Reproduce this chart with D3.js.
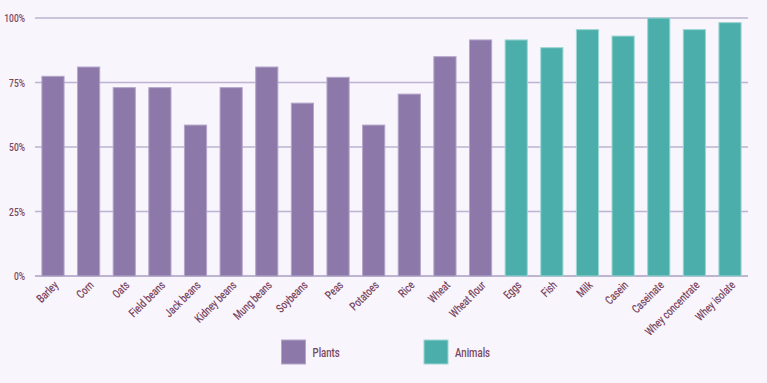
<!DOCTYPE html>
<html><head><meta charset="utf-8">
<script src="https://cdn.jsdelivr.net/npm/d3@7"></script>
<style>
html,body{margin:0;padding:0;background:#f8f5fc;}
svg{display:block;}
text{font-family:Roboto,"DejaVu Sans",sans-serif;font-weight:500;fill:#7a4761;}
</style></head>
<body>
<svg id="c" width="767" height="383"></svg>
<script>
const categories = ["Barley","Corn","Oats","Field beans","Jack beans","Kidney beans","Mung beans","Soybeans","Peas","Potatoes","Rice","Wheat","Wheat flour","Eggs","Fish","Milk","Casein","Caseinate","Whey concentrate","Whey isolate"];
const values = [77.4,81,73,73,58.5,73,81,67,77,58.5,70.5,85,91.5,91.5,88.5,95.5,93,100,95.5,98.2];
const groups = ["Plants","Plants","Plants","Plants","Plants","Plants","Plants","Plants","Plants","Plants","Plants","Plants","Plants","Animals","Animals","Animals","Animals","Animals","Animals","Animals"];
const seriesNames = ["Plants","Animals"];
const yTicks = [0,25,50,75,100];

const colors = {Plants:"#8c78a9", Animals:"#4caeab"};
const strokes = {Plants:"#b3a6c9", Animals:"#9bd6d2"};
const sx = 0.74;

const svg = d3.select("#c");
const mLeft = 35, mRight = 748, mTop = 18, mBottom = 276;
const x = d3.scaleBand().domain(categories).range([mLeft,mRight]).paddingInner(0.35).paddingOuter(0.18);
const y = d3.scaleLinear().domain([0,100]).range([mBottom,mTop]);

// gridlines
svg.append("g").selectAll("line").data(yTicks).join("line")
  .attr("x1",mLeft).attr("x2",mRight)
  .attr("y1",d=>y(d)).attr("y2",d=>y(d))
  .attr("stroke","#bcb4d0").attr("stroke-width",d=>d===0?2:1.3);

// y labels
svg.append("g").selectAll("text").data(yTicks).join("text")
  .attr("transform",d=>`translate(25,${y(d)+4}) scale(${sx},1)`)
  .attr("text-anchor","end").attr("font-size",11.5)
  .text(d=>d+"%");

// bars
svg.append("g").selectAll("rect").data(categories).join("rect")
  .attr("x",d=>x(d)+0.5).attr("width",x.bandwidth()-1)
  .attr("y",(d,i)=>y(values[i])).attr("height",(d,i)=>y(0)-y(values[i]))
  .attr("fill",(d,i)=>colors[groups[i]])
  .attr("stroke",(d,i)=>strokes[groups[i]]).attr("stroke-width",1);

// x labels
svg.append("g").selectAll("text").data(categories).join("text")
  .attr("transform",d=>`translate(${x(d)+x.bandwidth()/2+6},${mBottom+10}) rotate(-45) scale(${sx},1)`)
  .attr("text-anchor","end").attr("font-size",12)
  .text(d=>d);

// legend
const legX = [281.5, 424];
const lg = svg.append("g").selectAll("g").data(seriesNames).join("g")
  .attr("transform",(d,i)=>`translate(${legX[i]},340)`);
lg.append("rect").attr("width",24).attr("height",24)
  .attr("fill",d=>colors[d]).attr("stroke",d=>strokes[d]).attr("stroke-width",1);
lg.append("text").attr("transform",`translate(31,17) scale(${sx},1)`).attr("font-size",13).text(d=>d);
</script>
</body></html>
